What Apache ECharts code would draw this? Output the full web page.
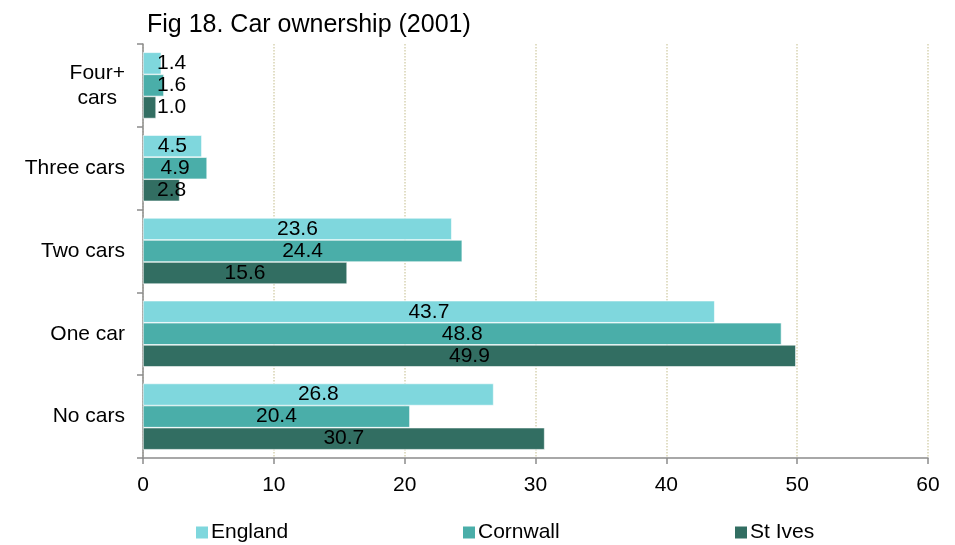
<!DOCTYPE html>
<html><head><meta charset="utf-8">
<script src="https://cdn.jsdelivr.net/npm/echarts@6/dist/echarts.min.js"></script>
<style>html,body{margin:0;padding:0;background:#fff}#c{width:955px;height:545px}</style>
</head><body><div id="c"></div>
<script>
var categories = ['Four+\ncars', 'Three cars', 'Two cars', 'One car', 'No cars'];
var england = [1.4, 4.5, 23.6, 43.7, 26.8];
var cornwall = [1.6, 4.9, 24.4, 48.8, 20.4];
var stIves = [1.0, 2.8, 15.6, 49.9, 30.7];
var xTicks = [0, 10, 20, 30, 40, 50, 60];
var seriesNames = ['England', 'Cornwall', 'St Ives'];
var colors = ['#7fd7dd', '#4aaea9', '#326e62'];

var FONT = 'Liberation Sans, Arial, sans-serif';
var FS = 21;
function items(arr) {
  return arr.map(function (v) {
    if (v < 4.4) {
      return { value: v, label: { position: 'insideLeft', distance: 14 } };
    }
    return v;
  });
}
var all = [england, cornwall, stIves];
var series = seriesNames.map(function (n, i) {
  return {
    name: n, type: 'bar', barGap: '0%', barCategoryGap: '20%',
    data: items(all[i]),
    itemStyle: { color: colors[i], borderColor: '#ffffff', borderWidth: 0.6 },
    label: { show: true, position: 'inside', color: '#000', fontSize: FS, fontFamily: FONT,
      formatter: function (p) { return p.value.toFixed(1); } }
  };
});
var legendLefts = [194, 461, 733];
var legends = seriesNames.map(function (n, i) {
  return { data: [n], left: legendLefts[i], top: 522, padding: 0, itemWidth: 14, itemHeight: 14, icon: 'rect',
    itemGap: 4, textStyle: { fontSize: FS, fontFamily: FONT, color: '#000', padding: [0, 0, 0, -3] } };
});
var chart = echarts.init(document.getElementById('c'));
chart.setOption({
  animation: false,
  title: { text: 'Fig 18. Car ownership (2001)', left: 142, top: 8,
    textStyle: { fontSize: 25, fontWeight: 'normal', fontFamily: FONT, color: '#000' } },
  legend: legends,
  grid: { left: 143, right: 27, top: 44, bottom: 87 },
  xAxis: {
    type: 'value', min: xTicks[0], max: xTicks[xTicks.length - 1], interval: 10,
    axisLine: { show: true, lineStyle: { color: '#8c8c8c', width: 1.5 } },
    axisTick: { show: true, length: 6, lineStyle: { color: '#8c8c8c', width: 1.5 } },
    axisLabel: { fontSize: FS, fontFamily: FONT, color: '#000', margin: 17 },
    splitLine: { show: true, lineStyle: { color: '#d8d3b2', type: 'dotted', width: 1.5 } }
  },
  yAxis: {
    type: 'category', inverse: true, data: categories,
    axisLine: { show: true, lineStyle: { color: '#8c8c8c', width: 1.5 } },
    axisTick: { show: true, length: 6, lineStyle: { color: '#8c8c8c', width: 1.5 } },
    axisLabel: { fontSize: FS, fontFamily: FONT, color: '#000', margin: 18, lineHeight: 25,
      formatter: function (v) { return v.split('\n').map(function (s) { return '{c|' + s + '}'; }).join('\n'); },
      rich: { c: { align: 'center', fontSize: FS, fontFamily: FONT, color: '#000', lineHeight: 25 } } },
    splitLine: { show: false }
  },
  series: series
});
</script></body></html>
